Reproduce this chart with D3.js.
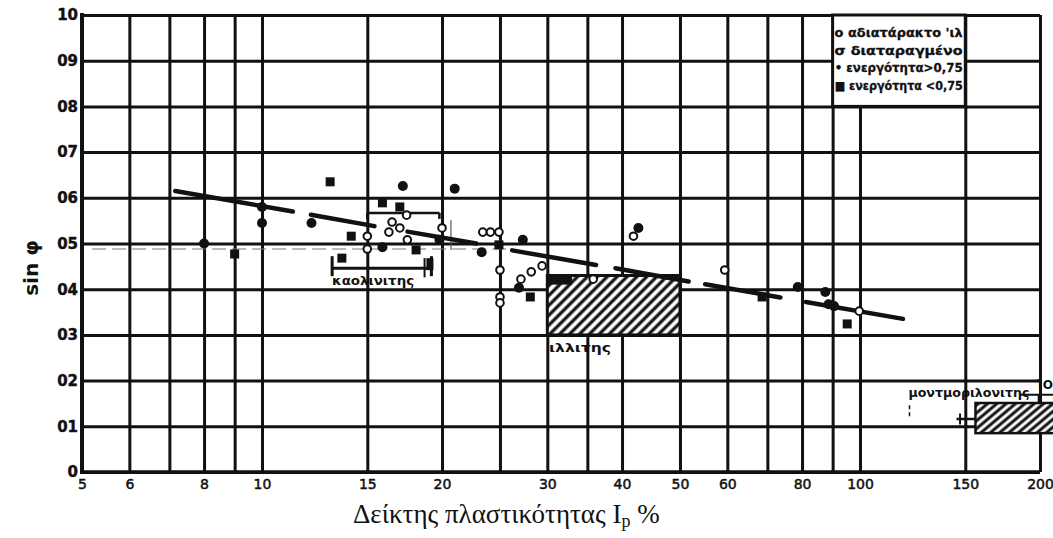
<!DOCTYPE html>
<html>
<head>
<meta charset="utf-8">
<script src="https://cdn.jsdelivr.net/npm/d3@7"></script>
<style>
  html, body { margin: 0; padding: 0; background: #fff; }
  svg { display: block; }
</style>
</head>
<body>
<svg id="chart" width="1053" height="538"></svg>
<script>
// Plasticity index (log scale) against sin φ
const xGridValues = [5, 6, 7, 8, 9, 10, 15, 20, 25, 30, 35, 40, 50, 60, 70, 80, 90, 100, 150, 200];
const xTickLabels = [5, 6, 8, 10, 15, 20, 30, 40, 50, 60, 80, 100, 150, 200];
const yGridValues = [0, 0.1, 0.2, 0.3, 0.4, 0.5, 0.6, 0.7, 0.8, 0.9, 1.0];
const yTickLabels = ["0", "01", "02", "03", "04", "05", "06", "07", "08", "09", "10"];

// measured points [Ip %, sin φ]
const filledCircles = [
  [8, 0.50], [10, 0.58], [10, 0.545], [12.1, 0.545], [17.2, 0.626], [21, 0.62],
  [15.9, 0.492], [19.8, 0.508], [23.3, 0.481], [27.3, 0.508], [26.9, 0.403],
  [42.6, 0.534], [78.7, 0.405], [87.5, 0.394], [90.5, 0.363], [88.6, 0.367]
];
const openCircles = [
  [17.45, 0.562], [16.5, 0.547], [17.0, 0.534], [16.3, 0.525], [15.0, 0.516], [15.0, 0.488],
  [17.5, 0.508], [20.0, 0.534], [23.4, 0.525], [24.1, 0.525], [24.9, 0.525],
  [25.0, 0.442], [25.0, 0.383], [25.0, 0.370], [29.4, 0.451], [28.2, 0.438], [27.1, 0.422],
  [41.8, 0.516], [59.4, 0.442], [99.7, 0.352], [35.8, 0.422]
];
const filledSquares = [
  [9.0, 0.477], [13.0, 0.635], [14.1, 0.516], [13.6, 0.468], [15.9, 0.589], [17.0, 0.58],
  [18.1, 0.486], [24.9, 0.497], [28.1, 0.383], [68.6, 0.383], [95.2, 0.324]
];

// dashed trend line, one entry per drawn dash: [[x0, y0], [x1, y1]]
const trendDashes = [
  [[7.16, 0.615], [11.26, 0.570]],
  [[12.07, 0.563], [15.42, 0.538]],
  [[17.51, 0.526], [22.82, 0.500]],
  [[26.2, 0.485], [36.2, 0.453]],
  [[39.0, 0.446], [51.7, 0.417]],
  [[55.1, 0.411], [73.6, 0.382]],
  [[81.2, 0.372], [118.0, 0.335]]
];

// mineral ranges
const illiteRange = { x0: 30, x1: 50, y0: 0.30, y1: 0.43 };
const montmorilloniteRange = { x0: 156, x1: 220, y0: 0.085, y1: 0.151 };
const kaoliniteLower = { x0: 13.1, x1: 19.2, y: 0.446 };
const kaoliniteUpper = { x0: 15.0, x1: 19.8, y: 0.567 };
const legendLines = ["ο αδιατάρακτο 'ιλ", "σ διαταραγμένο", "• ενεργότητα>0,75", "■ ενεργότητα <0,75"];

const svg = d3.select("#chart");
const x = d3.scaleLog().domain([5, 200]).range([82, 1040]);
const y = d3.scaleLinear().domain([0, 1]).range([472, 15]);
const [plotLeft, plotRight] = x.range();
const [plotBottom, plotTop] = y.range();

svg.append("rect").attr("width", 1053).attr("height", 538).attr("fill", "#fff");

const defs = svg.append("defs");
defs.append("pattern")
  .attr("id", "hatch").attr("patternUnits", "userSpaceOnUse")
  .attr("width", 7).attr("height", 7).attr("patternTransform", "rotate(45)")
  .call(p => {
    p.append("rect").attr("width", 7).attr("height", 7).attr("fill", "#fff");
    p.append("line").attr("x1", 2).attr("y1", 0).attr("x2", 2).attr("y2", 7)
      .attr("stroke", "#111").attr("stroke-width", 3.2);
  });
defs.append("pattern")
  .attr("id", "hatch2").attr("patternUnits", "userSpaceOnUse")
  .attr("width", 6).attr("height", 6).attr("patternTransform", "rotate(50)")
  .call(p => {
    p.append("rect").attr("width", 6).attr("height", 6).attr("fill", "#fff");
    p.append("line").attr("x1", 2).attr("y1", 0).attr("x2", 2).attr("y2", 6)
      .attr("stroke", "#111").attr("stroke-width", 3);
  });

// vertical grid + x tick labels
const xAxis = svg.append("g")
  .attr("transform", `translate(0,${plotBottom})`)
  .call(d3.axisBottom(x)
    .tickValues(xGridValues)
    .tickSize(-(plotBottom - plotTop))
    .tickPadding(7)
    .tickFormat(d => xTickLabels.includes(d) ? String(d) : ""));
xAxis.select(".domain").remove();
xAxis.selectAll(".tick line").attr("stroke", "#111").attr("stroke-width", 3);
xAxis.selectAll(".tick text")
  .attr("fill", "#111").attr("font-family", "DejaVu Sans").attr("font-size", 14)
  .attr("stroke", "#111").attr("stroke-width", 0.5);

// horizontal grid + y tick labels
const yAxis = svg.append("g")
  .attr("transform", `translate(${plotLeft},0)`)
  .call(d3.axisLeft(y)
    .tickValues(yGridValues)
    .tickSize(-(plotRight - plotLeft))
    .tickPadding(4)
    .tickFormat((d, i) => yTickLabels[i]));
yAxis.select(".domain").remove();
yAxis.selectAll(".tick line").attr("stroke", "#111").attr("stroke-width", 3);
yAxis.selectAll(".tick text")
  .attr("fill", "#111").attr("font-family", "DejaVu Sans").attr("font-weight", "bold")
  .attr("font-size", 15).attr("stroke", "#111").attr("stroke-width", 0.4);

// frame
svg.append("line").attr("x1", plotLeft).attr("x2", plotLeft).attr("y1", plotTop - 2).attr("y2", plotBottom + 2)
  .attr("stroke", "#111").attr("stroke-width", 4);
svg.append("line").attr("x1", plotLeft).attr("x2", plotRight).attr("y1", plotBottom).attr("y2", plotBottom)
  .attr("stroke", "#111").attr("stroke-width", 3.5);

// legend box covering the grid in the top right
svg.append("rect")
  .attr("x", x(90)).attr("y", y(1.0))
  .attr("width", x(150) - x(90)).attr("height", y(0.8) - y(1.0))
  .attr("fill", "#fff").attr("stroke", "#111").attr("stroke-width", 3);
legendLines.forEach((t, i) => {
  svg.append("text")
    .attr("x", x(90) + 2).attr("y", 37 + i * 17.5)
    .attr("font-family", "DejaVu Sans").attr("font-weight", "bold").attr("font-size", 12)
    .attr("textLength", 128).attr("lengthAdjust", "spacingAndGlyphs")
    .attr("stroke", "#111").attr("stroke-width", 0.3)
    .attr("fill", "#111").text(t);
});

// faint dashed reference line
svg.append("line")
  .attr("x1", x(5.2)).attr("x2", x(26)).attr("y1", y(0.488)).attr("y2", y(0.488))
  .attr("stroke", "#777").attr("stroke-width", 1.2).attr("stroke-dasharray", "14,6");

// illite range
svg.append("rect")
  .attr("x", x(illiteRange.x0)).attr("y", y(illiteRange.y1))
  .attr("width", x(illiteRange.x1) - x(illiteRange.x0))
  .attr("height", y(illiteRange.y0) - y(illiteRange.y1))
  .attr("fill", "url(#hatch)").attr("stroke", "#111").attr("stroke-width", 3);
svg.append("rect")
  .attr("x", x(illiteRange.x0)).attr("y", y(illiteRange.y1))
  .attr("width", x(33) - x(illiteRange.x0)).attr("height", y(0.41) - y(illiteRange.y1))
  .attr("fill", "#111");
svg.append("text").attr("x", x(30.2)).attr("y", 352)
  .attr("font-family", "DejaVu Sans").attr("font-weight", "bold").attr("font-size", 12)
  .attr("textLength", 62).attr("lengthAdjust", "spacingAndGlyphs").attr("fill", "#111")
  .text("ιλλιτης");

// montmorillonite range
svg.append("rect")
  .attr("x", x(montmorilloniteRange.x0)).attr("y", y(montmorilloniteRange.y1))
  .attr("width", x(montmorilloniteRange.x1) - x(montmorilloniteRange.x0))
  .attr("height", y(montmorilloniteRange.y0) - y(montmorilloniteRange.y1))
  .attr("fill", "url(#hatch2)").attr("stroke", "#111").attr("stroke-width", 2.5);
svg.append("line").attr("x1", x(145)).attr("x2", x(156)).attr("y1", y(0.116)).attr("y2", y(0.116))
  .attr("stroke", "#111").attr("stroke-width", 2.5);
svg.append("line").attr("x1", x(147)).attr("x2", x(147)).attr("y1", y(0.128)).attr("y2", y(0.104))
  .attr("stroke", "#111").attr("stroke-width", 2);
svg.append("line").attr("x1", x(185)).attr("x2", x(215)).attr("y1", y(0.169)).attr("y2", y(0.169))
  .attr("stroke", "#111").attr("stroke-width", 2);
svg.append("line").attr("x1", x(199)).attr("x2", x(199)).attr("y1", y(0.169)).attr("y2", y(0.151))
  .attr("stroke", "#111").attr("stroke-width", 2);
svg.append("line").attr("x1", x(121)).attr("x2", x(121)).attr("y1", y(0.146)).attr("y2", y(0.118))
  .attr("stroke", "#111").attr("stroke-width", 1.5).attr("stroke-dasharray", "4,3");
svg.append("text").attr("x", x(120.5)).attr("y", 397)
  .attr("font-family", "DejaVu Sans").attr("font-weight", "bold").attr("font-size", 12)
  .attr("textLength", 121).attr("lengthAdjust", "spacingAndGlyphs").attr("fill", "#111")
  .text("μοντμοριλονιτης");
svg.append("text").attr("x", 1036).attr("y", 389)
  .attr("font-family", "DejaVu Sans").attr("font-weight", "bold").attr("font-size", 12)
  .attr("fill", "#111").text("ΊΟ");

// kaolinite brackets
function bracket(b, tickUp, tickDown, w) {
  svg.append("line").attr("x1", x(b.x0)).attr("x2", x(b.x1)).attr("y1", y(b.y)).attr("y2", y(b.y))
    .attr("stroke", "#111").attr("stroke-width", w);
  [b.x0, b.x1].forEach(v => {
    svg.append("line").attr("x1", x(v)).attr("x2", x(v))
      .attr("y1", y(b.y) - tickUp).attr("y2", y(b.y) + tickDown)
      .attr("stroke", "#111").attr("stroke-width", w);
  });
}
bracket(kaoliniteLower, 12, 8, 3);
bracket(kaoliniteUpper, 0, 6, 2.5);
svg.append("rect").attr("x", x(kaoliniteLower.x1) - 5).attr("y", y(kaoliniteLower.y) - 10)
  .attr("width", 7).attr("height", 12).attr("fill", "#111");
svg.append("line").attr("x1", x(18.7)).attr("x2", x(18.7)).attr("y1", y(0.426)).attr("y2", y(0.468))
  .attr("stroke", "#111").attr("stroke-width", 2);
svg.append("line").attr("x1", x(20.7)).attr("x2", x(20.7)).attr("y1", y(0.551)).attr("y2", y(0.486))
  .attr("stroke", "#555").attr("stroke-width", 1.2);
svg.append("text").attr("x", x(13.1)).attr("y", 285)
  .attr("font-family", "DejaVu Sans").attr("font-weight", "bold").attr("font-size", 12)
  .attr("textLength", 82).attr("lengthAdjust", "spacingAndGlyphs").attr("fill", "#111")
  .text("καολινιτης");

// trend line
svg.append("g").selectAll("line").data(trendDashes).join("line")
  .attr("x1", d => x(d[0][0])).attr("y1", d => y(d[0][1]))
  .attr("x2", d => x(d[1][0])).attr("y2", d => y(d[1][1]))
  .attr("stroke", "#111").attr("stroke-width", 4.5).attr("stroke-linecap", "round");

// markers
svg.append("g").selectAll("rect").data(filledSquares).join("rect")
  .attr("x", d => x(d[0]) - 4.5).attr("y", d => y(d[1]) - 4.5)
  .attr("width", 9).attr("height", 9).attr("fill", "#111");
svg.append("g").selectAll("circle").data(filledCircles).join("circle")
  .attr("cx", d => x(d[0])).attr("cy", d => y(d[1])).attr("r", 5).attr("fill", "#111");
svg.append("g").selectAll("circle").data(openCircles).join("circle")
  .attr("cx", d => x(d[0])).attr("cy", d => y(d[1])).attr("r", 3.8)
  .attr("fill", "#fff").attr("stroke", "#111").attr("stroke-width", 2);

// axis titles
svg.append("text")
  .attr("transform", `translate(38,268) rotate(-90)`)
  .attr("text-anchor", "middle")
  .attr("font-family", "DejaVu Sans").attr("font-weight", "bold").attr("font-size", 20)
  .attr("fill", "#111").text("sin φ");
const title = svg.append("text")
  .attr("x", 353).attr("y", 523)
  .attr("font-family", "Liberation Serif").attr("font-size", 27).attr("fill", "#111");
title.append("tspan").text("Δείκτης πλαστικότητας I");
title.append("tspan").attr("font-size", 18).attr("dy", 4).text("p");
title.append("tspan").attr("dy", -4).text(" %");
</script>
</body>
</html>
